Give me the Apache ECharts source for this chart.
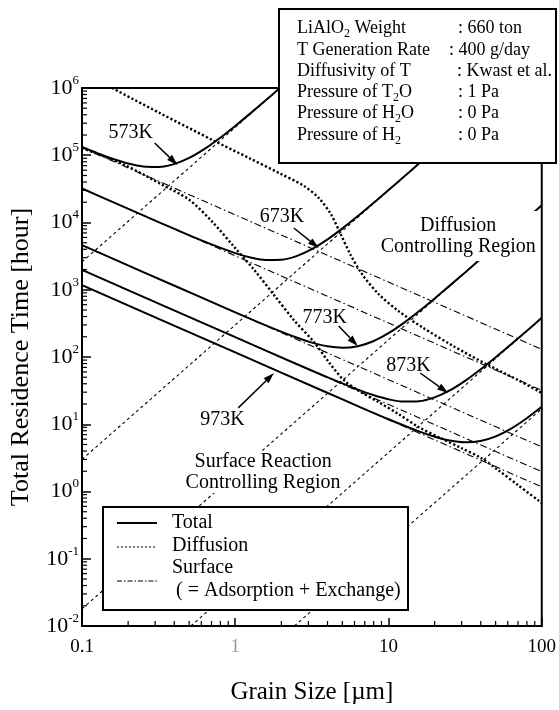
<!DOCTYPE html>
<html>
<head>
<meta charset="utf-8">
<title>Total Residence Time vs Grain Size</title>
<script src="https://cdn.jsdelivr.net/npm/echarts@6/dist/echarts.min.js"></script>
<style>
  html, body { margin: 0; padding: 0; background: #fff; }
  #container1 { width: 559px; height: 710px; }
</style>
</head>
<body>
<div id="container1"></div>
<script>
var FONT = '"Liberation Serif", "Times New Roman", serif';

// total residence time [hour] against grain size [um]
var total573 = [[0.1,132600],[0.126,107300],[0.158,88770],[0.2,75400],[0.251,68170],[0.316,67100],[0.398,73850],[0.501,91210],[0.631,124120],[0.794,180280],[1.0,273000],[1.26,423090],[1.58,657290],[1.96,1005450]];
var total673 = [[0.1,32000],[0.158,20260],[0.251,12770],[0.398,8090],[0.631,5190],[1.0,3500],[1.26,3016],[1.58,2774],[2.0,2800],[2.51,3165],[3.16,4009],[3.98,5556],[5.01,8169],[6.31,12450],[7.94,19320],[10,30320],[12.6,47880],[15.8,75100],[20,120160],[30,270100],[58,1009000]];
var total773 = [[0.1,4600],[0.251,1833],[0.631,730],[1.0,462],[1.58,295.6],[2.51,194.6],[3.16,163.6],[3.98,144.1],[5.01,137],[6.31,144.6],[7.94,171.4],[10,226],[12.6,322],[15.8,478],[20,743],[25.1,1152],[31.6,1812],[39.8,2863],[50.1,4527],[63.1,7174],[79.4,11350],[100,18000]];
var total873 = [[0.1,1970],[1.0,197],[2.51,78.7],[3.98,50.1],[6.31,32.7],[7.94,27.2],[10,23.5],[12.6,21.7],[15.8,21.96],[20,25.05],[25.1,31.8],[31.6,44.2],[39.8,65.2],[50.1,99.3],[63.1,154.4],[79.4,242.1],[100,382]];
var total973 = [[0.1,1170],[1.0,117],[3.98,29.4],[6.31,18.6],[10,11.87],[15.8,7.83],[20,6.53],[25.1,5.73],[31.6,5.4],[39.8,5.63],[50.1,6.61],[63.1,8.62],[79.4,12.19],[100,18.17]];

// diffusion lines (dotted), end points
var diff573 = [[0.1,2600],[1.96,1000000]];
var diff673 = [[0.1,3],[57.7,1000000]];
var diff773 = [[0.1,0.018],[100,18000]];
var diff873 = [[0.513,0.01],[100,380]];
var diff973 = [[2.43,0.01],[100,17]];

// surface lines (dash-dot), end points
var surf573 = [[0.1,130000],[100,130]];
var surf673 = [[0.1,32000],[100,32]];
var surf773 = [[0.1,4600],[100,4.6]];
var surf873 = [[0.1,1970],[100,1.97]];
var surf973 = [[0.1,1170],[100,1.17]];

// heavy dotted boundaries of the controlling regions
var boundUpper = [[0.157,1000000],[0.321,425000],[0.731,163000],[1.23,91000],[1.93,54500],[2.81,34900],[3.51,23100],[4.2,13400],[4.87,6740],[5.66,3290],[6.78,1660],[8.61,865],[11.6,483],[16.9,270],[26.4,146],[44.6,76],[69.8,45.5],[100,29.2]];
var boundLower = [[0.1,128000],[0.19,71600],[0.336,36100],[0.503,21600],[0.709,10200],[0.985,4330],[1.33,1970],[1.79,836],[2.41,355],[3.26,167],[4.07,84.3],[5.1,45.5],[6.58,30.2],[8.6,21.4],[11.6,14.2],[15.7,9.1],[21.8,6.25],[29.8,4.44],[40.2,3.15],[51.8,2.09],[69.8,1.25],[100,0.675]];

// axis ticks
var xDecades = [0.1, 1, 10];
var yDecades = [0.01, 0.1, 1, 10, 100, 1000, 10000, 100000];
var minorSteps = [2, 3, 4, 5, 6, 7, 8, 9];

// annotations (data coordinates)
var tempLabels = [
  {text: '573K', at: [0.208, 214000]},
  {text: '673K', at: [2.02, 12100]},
  {text: '773K', at: [3.84, 380]},
  {text: '873K', at: [13.5, 73.5]},
  {text: '973K', at: [0.824, 11.6]}
];
var tempArrows = [
  {from: [0.298, 152000], to: [0.42, 71600]},
  {from: [2.41, 8280], to: [3.51, 4180]},
  {from: [4.73, 289], to: [6.3, 146]},
  {from: [16.1, 57.8], to: [24.5, 29.2]},
  {from: [1.046, 17.5], to: [1.79, 57.8]}
];
var regionLabels = [
  {text: 'Diffusion\nControlling Region', at: [28.5, 6300], padding: [1, 3, 7, 3]},
  {text: 'Surface Reaction\nControlling Region', at: [1.52, 1.95], padding: [0, 2, 0, 2]}
];

function curve(data, kind) {
  var styles = {
    total: {color: '#000', width: 2, type: 'solid'},
    diff: {color: '#000', width: 1.1, type: [3, 3]},
    surf: {color: '#000', width: 1.1, type: [7, 3, 1.5, 3]},
    bound: {color: '#000', width: 2.4, type: [2.2, 2.2]}
  };
  var s = {
    type: 'line',
    data: data,
    symbol: 'none',
    silent: true,
    lineStyle: styles[kind],
    z: kind === 'total' ? 5 : 3
  };
  if (kind === 'total' || kind === 'bound') {
    s.smooth = 0.3;
  }
  return s;
}

var minorX = [];
xDecades.forEach(function (d) { minorSteps.forEach(function (m) { minorX.push([d * m, 0.01]); }); });
var minorY = [];
yDecades.forEach(function (d) { minorSteps.forEach(function (m) { minorY.push([0.1, d * m]); }); });

var chartDom = document.getElementById('container1');
var myChart = echarts.init(chartDom);

var option = {
  animation: false,
  grid: {left: 82, top: 88, width: 462, height: 538, show: true, borderColor: '#000', borderWidth: 2, backgroundColor: 'rgba(0,0,0,0)'},
  xAxis: {
    type: 'log', logBase: 10, min: 0.1, max: 100, splitNumber: 3,
    axisLine: {lineStyle: {color: '#000', width: 2}},
    axisTick: {inside: true, length: 8, lineStyle: {color: '#000', width: 1.5}},
    splitLine: {show: false},
    axisLabel: {
      margin: 12, color: '#000', fontSize: 19, fontFamily: FONT, showMinLabel: true, showMaxLabel: true,
      formatter: function (v) {
        if (Math.abs(v - 1) < 1e-9) return '{g|1}';
        return v < 1 ? '0.1' : String(Math.round(v));
      },
      rich: {g: {color: '#9a9a9a', fontSize: 19, fontFamily: FONT}}
    },
    name: 'Grain Size [\u00b5m]', nameLocation: 'middle', nameGap: 54,
    nameTextStyle: {color: '#000', fontSize: 25, fontFamily: FONT}
  },
  yAxis: {
    type: 'log', logBase: 10, min: 0.01, max: 1000000, splitNumber: 8,
    axisLine: {lineStyle: {color: '#000', width: 2}},
    axisTick: {inside: true, length: 9, lineStyle: {color: '#000', width: 1.5}},
    splitLine: {show: false},
    axisLabel: {
      margin: 3, showMinLabel: true, showMaxLabel: true,
      formatter: function (v) {
        var e = Math.round(Math.log(v) / Math.LN10);
        return '{b|10}{e|' + e + '}';
      },
      rich: {
        b: {fontSize: 22, fontFamily: FONT, color: '#000', lineHeight: 28},
        e: {fontSize: 13, fontFamily: FONT, color: '#000', lineHeight: 12, verticalAlign: 'top'}
      }
    },
    name: 'Total Residence Time [hour]', nameLocation: 'middle', nameGap: 48,
    nameTextStyle: {color: '#000', fontSize: 26, fontFamily: FONT}
  },
  series: [
    curve(surf573, 'surf'), curve(surf673, 'surf'), curve(surf773, 'surf'), curve(surf873, 'surf'), curve(surf973, 'surf'),
    curve(diff573, 'diff'), curve(diff673, 'diff'), curve(diff773, 'diff'), curve(diff873, 'diff'), curve(diff973, 'diff'),
    curve(boundUpper, 'bound'), curve(boundLower, 'bound'),
    curve(total573, 'total'), curve(total673, 'total'), curve(total773, 'total'), curve(total873, 'total'), curve(total973, 'total'),
    {
      type: 'custom', data: minorX, silent: true, clip: false, z: 6,
      renderItem: function (params, api) {
        var p = api.coord([api.value(0), api.value(1)]);
        return {type: 'line', shape: {x1: p[0], y1: p[1], x2: p[0], y2: p[1] - 5}, style: {stroke: '#000', lineWidth: 1.2}};
      }
    },
    {
      type: 'custom', data: minorY, silent: true, clip: false, z: 6,
      renderItem: function (params, api) {
        var p = api.coord([api.value(0), api.value(1)]);
        return {type: 'line', shape: {x1: p[0], y1: p[1], x2: p[0] + 5, y2: p[1]}, style: {stroke: '#000', lineWidth: 1.2}};
      }
    }
  ]
};
myChart.setOption(option);

// boxes, labels and arrows
function txt(x, y, text, size, rich, extra) {
  var st = {text: text, x: x, y: y, font: size + 'px ' + FONT, fill: '#000',
    align: 'left', textAlign: 'left', verticalAlign: 'middle', textVerticalAlign: 'middle'};
  if (rich) st.rich = rich;
  if (extra) for (var k in extra) st[k] = extra[k];
  return {type: 'text', z: 60, style: st};
}

var subRich = {
  n: {fontSize: 18, fontFamily: FONT, lineHeight: 24},
  s: {fontSize: 12, fontFamily: FONT, lineHeight: 12, verticalAlign: 'bottom'}
};
var paramRows = [
  ['{n|LiAlO}{s|2}{n| Weight}', ': 660 ton', 458],
  ['{n|T Generation Rate}', ': 400 g/day', 449],
  ['{n|Diffusivity of T}', ': Kwast et al.', 457],
  ['{n|Pressure of T}{s|2}{n|O}', ': 1 Pa', 458],
  ['{n|Pressure of H}{s|2}{n|O}', ': 0 Pa', 458],
  ['{n|Pressure of H}{s|2}', ': 0 Pa', 458]
];
var rowY = [28, 50, 71, 92, 113, 135];

var graphics = [];
graphics.push({type: 'rect', z: 50, shape: {x: 279, y: 9, width: 277, height: 154}, style: {fill: '#fff', stroke: '#000', lineWidth: 2}});
paramRows.forEach(function (r, i) {
  graphics.push(txt(297, rowY[i], r[0], 18, subRich));
  graphics.push(txt(r[2], rowY[i], r[1], 18));
});

// legend
graphics.push({type: 'rect', z: 50, shape: {x: 103, y: 507, width: 305, height: 103}, style: {fill: '#fff', stroke: '#000', lineWidth: 2}});
graphics.push({type: 'line', z: 60, shape: {x1: 117, y1: 523, x2: 157, y2: 523}, style: {stroke: '#000', lineWidth: 2}});
graphics.push({type: 'line', z: 60, shape: {x1: 117, y1: 547, x2: 157, y2: 547}, style: {stroke: '#000', lineWidth: 1.1, lineDash: [2, 2]}});
graphics.push({type: 'line', z: 60, shape: {x1: 117, y1: 581, x2: 157, y2: 581}, style: {stroke: '#000', lineWidth: 1.1, lineDash: [5, 2, 1.5, 2]}});
graphics.push(txt(172, 523, 'Total', 20));
graphics.push(txt(172, 546, 'Diffusion', 20));
graphics.push(txt(172, 568, 'Surface', 20));
graphics.push(txt(176, 591, '( = Adsorption + Exchange)', 20));

tempLabels.forEach(function (l) {
  var p = myChart.convertToPixel({gridIndex: 0}, l.at);
  graphics.push(txt(p[0], p[1], l.text, 20, null, {align: 'center', textAlign: 'center'}));
});
regionLabels.forEach(function (l) {
  var p = myChart.convertToPixel({gridIndex: 0}, l.at);
  graphics.push({type: 'text', z: 40, style: {text: l.text, x: p[0], y: p[1], font: '20px ' + FONT, fill: '#000',
    lineHeight: 21, align: 'center', textAlign: 'center', verticalAlign: 'middle', textVerticalAlign: 'middle',
    backgroundColor: '#fff', padding: l.padding}});
});
tempArrows.forEach(function (a) {
  var p0 = myChart.convertToPixel({gridIndex: 0}, a.from);
  var p1 = myChart.convertToPixel({gridIndex: 0}, a.to);
  var dx = p1[0] - p0[0], dy = p1[1] - p0[1];
  var len = Math.sqrt(dx * dx + dy * dy);
  var ux = dx / len, uy = dy / len;
  var bx = p1[0] - ux * 11, by = p1[1] - uy * 11;
  graphics.push({type: 'line', z: 60, shape: {x1: p0[0], y1: p0[1], x2: bx, y2: by}, style: {stroke: '#000', lineWidth: 1.5}});
  graphics.push({type: 'polygon', z: 60, shape: {points: [[p1[0], p1[1]], [bx - uy * 3.5, by + ux * 3.5], [bx + uy * 3.5, by - ux * 3.5]]}, style: {fill: '#000'}});
});

myChart.setOption({graphic: {elements: graphics}});
</script>
</body>
</html>
